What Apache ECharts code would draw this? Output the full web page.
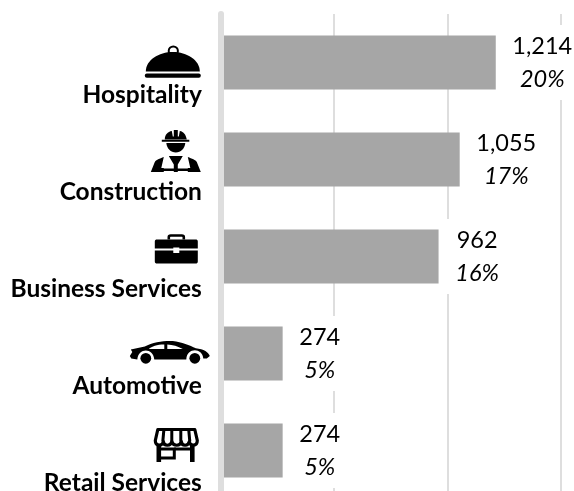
<!DOCTYPE html>
<html>
<head>
<meta charset="utf-8">
<style>html,body{margin:0;padding:0;background:#fff}#c{width:574px;height:491px}</style>
<script src="https://cdn.jsdelivr.net/npm/echarts@6/dist/echarts.min.js"></script>
</head>
<body>
<div id="c"></div>
<script>
const categories = ['Hospitality', 'Construction', 'Business Services', 'Automotive', 'Retail Services'];
const values = [1214, 1055, 962, 274, 274];
const shares = ['20%', '17%', '16%', '5%', '5%'];
const axisTicks = { min: 0, max: 1500, interval: 500 };

// Pictograms, drawn in a 92x48 tile
const iconBodies = [
  // cloche
  ['117 30.5', '<path d="M144 70.5C144 59 157 51 171 51S198 59 198 70.5Z"/><circle cx="171.5" cy="50" r="4.6" fill="none" stroke="#000" stroke-width="2"/><rect x="143" y="72.5" width="56" height="4.2" rx="2"/>'],
  // worker
  ['117 127', '<path d="M163 138C163 133 166 130 170 129.4L171 135H172V128.6H176V135H177L178 129.4C182 130 184 133 185 138Z"/><rect x="160" y="138.3" width="27.5" height="2"/><path d="M164.5 141.5H183.5C183 147 179 151 174 151S165 147 164.5 141.5Z"/><path d="M149 170.5L153 160.5C154 158.5 158 157 162 155.5L159.5 166.5H162V170.5Z"/><path d="M199 170.5L195 160.5C194 158.5 190 157 186 155.5L188.5 166.5H186V170.5Z"/><path d="M167 154.5H181L176 163V170.5H172V163Z"/><rect x="160" y="167" width="28" height="2.4"/>'],
  // briefcase
  ['117 224', '<path d="M153 240C153 238.5 154 238 155 238H194C195 238 196 238.5 196 240V247H177.5V246H171.5V247H153Z"/><path d="M153 249H171.5V251.5H177.5V249H196V260C196 261.5 195 262 194 262H155C154 262 153 261.5 153 260Z"/><path d="M167 238V235.5C167 234.5 168 234 169 234H180C181 234 182 234.5 182 235.5V238" fill="none" stroke="#000" stroke-width="2.6"/>'],
  // car
  ['117 321', '<path fill-rule="evenodd" d="M128 354.5L130.5 350.5L129 348L143 345C151 340.5 163 339 171 339.5C180 340.5 188 344 194 346.8C202 347.6 207 351 208 354.5L205 357H201.5C200.5 346 185 346 184.5 358H152.5C151.5 346 136.5 346 135.5 358L129.5 357ZM147 347.5H162.5V343C155 343 150 344.8 147 347.5ZM165.5 343V347.5H181C176 344.8 171 343.2 165.5 343Z"/><circle cx="144" cy="356.8" r="5.4"/><circle cx="193" cy="356.8" r="5.4"/>'],
  // store
  ['117 418', '<path d="M156 428H193L195.5 439C195.5 445 188 445 187.5 440C186.5 445 180 445 179.5 440C178.5 445 171.5 445 170 440C169 445 162 445 161.5 440C161 445 153.5 445 153.5 439Z" fill="none" stroke="#000" stroke-width="3.2" stroke-linejoin="round"/><path d="M162 429L161 440M170 429V440M179 429V440M187 429L188 440" stroke="#000" stroke-width="3"/><path d="M157 444V460.5M190.5 443V460.5" stroke="#000" stroke-width="4.6" fill="none"/><path d="M157 447.5H172.5V456.5H157" stroke="#000" stroke-width="3" fill="none"/><path d="M172.5 447.5H190" stroke="#000" stroke-width="3"/>']
];
const iconUrl = ([origin, body]) => 'data:image/svg+xml;charset=utf-8,' + encodeURIComponent(
  '<svg xmlns="http://www.w3.org/2000/svg" width="92" height="48" viewBox="' + origin + ' 92 48">' + body + '</svg>');

const rich = { name: { fontFamily: 'Lato', fontWeight: 'bold', fontSize: 24.5, color: '#000', lineHeight: 31, padding: [0, 9, 0, 0] } };
iconBodies.forEach((icon, i) => {
  rich['icon' + i] = { width: 92, height: 48, lineHeight: 48, backgroundColor: { image: iconUrl(icon) } };
});

const chart = echarts.init(document.getElementById('c'), null, { renderer: 'canvas' });
chart.setOption({
  animation: false,
  backgroundColor: '#fff',
  grid: { left: 220.7, top: 14, width: 340, height: 485, outerBoundsMode: 'none' },
  xAxis: {
    type: 'value', min: axisTicks.min, max: axisTicks.max, interval: axisTicks.interval,
    axisLabel: { show: false }, axisLine: { show: false }, axisTick: { show: false },
    splitLine: { show: true, lineStyle: { color: '#dedede', width: 2 } }
  },
  yAxis: {
    type: 'category', inverse: true, data: categories, offset: 2, z: 4,
    axisTick: { show: false },
    axisLine: { show: true, lineStyle: { color: '#dedede', width: 6 } },
    axisLabel: {
      interval: 0, margin: 7.9, align: 'right', verticalAlign: 'middle', padding: [17, 0, 0, 0],
      formatter: (name, i) => '{icon' + categories.indexOf(name) + '|}\n{name|' + name + '}',
      rich
    }
  },
  series: [{
    type: 'bar',
    data: values,
    barWidth: 54,
    itemStyle: { color: '#a6a6a6' },
    label: {
      show: true, position: 'right', distance: 0,
      backgroundColor: '#fff',
      padding: [4, 16.5, 4, 16.5],
      formatter: p => '{v|' + p.value.toLocaleString('en-US') + '}\n{s|' + shares[p.dataIndex] + '}',
      rich: {
        v: { fontFamily: 'Lato', fontSize: 23.5, color: '#000', lineHeight: 34, align: 'center' },
        s: { fontFamily: 'Lato', fontStyle: 'italic', fontSize: 23.5, color: '#000', lineHeight: 33, align: 'center' }
      }
    }
  }]
});
</script>
</body>
</html>
